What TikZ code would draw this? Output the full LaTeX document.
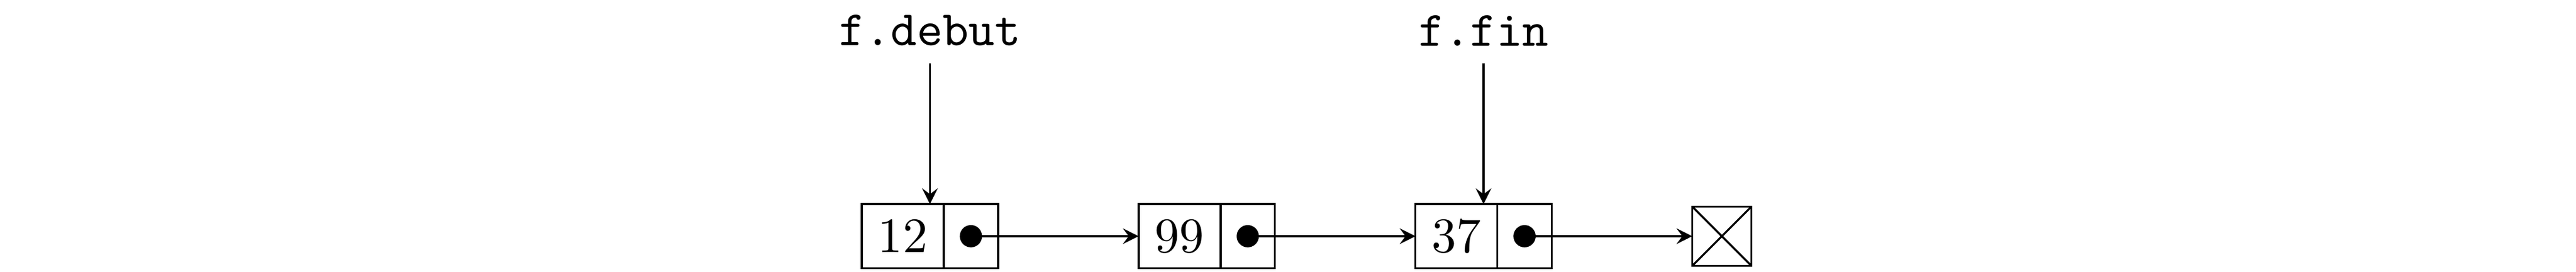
\documentclass[tikz,border=0pt]{standalone}
\usepackage{amsmath}
\usepackage{tikz}
\usetikzlibrary{positioning,calc}

\begin{document}
\begin{tikzpicture}[>=stealth, node distance=1cm]
\tikzstyle{val}=[draw, outer sep=0pt, inner sep=0pt, minimum width=16.6pt, minimum height=13pt];
\tikzstyle{ptr}=[draw, outer sep=0pt, inner sep=0pt, minimum width=11pt, minimum height=13pt];
\tikzstyle{dot}=[circle, fill, inner sep=0pt, minimum size=4.5pt];
\useasboundingbox (-6.425,-0.254) rectangle (11.908,1.679);
\node[val] (v1) at (0,0) {$12$};
\node[ptr, right=0pt of v1] (p1) {};
\node[val, right=of p1] (v2) {$99$};
\node[ptr, right=0pt of v2] (p2) {};
\node[val, right=of p2] (v3) {$37$};
\node[ptr, right=0pt of v3] (p3) {};
\node[draw, outer sep=0pt, minimum size=12pt, inner sep=0pt, right=of p3] (nil) {};
\draw (nil.north west) -- (nil.south east) (nil.south west) -- (nil.north east);
\foreach \i in {1,...,3}
{
\path (p\i.center) node[dot] (d\i) {};
\coordinate (t\i) at ($(v\i.north west)!0.5!(p\i.north east)$);
}
\draw[->] (d1.center) -- (v2.west);
\draw[->] (d2.center) -- (v3.west);
\draw[->] (d3.center) -- (nil.west);
\node[above=of t1] (debut) {\texttt{f.debut}};
\node[above=of t3] (fin) {\texttt{f.fin}};
\draw[->] (debut) -- (t1);
\draw[->] (fin) -- (t3);
\end{tikzpicture}
\end{document}
